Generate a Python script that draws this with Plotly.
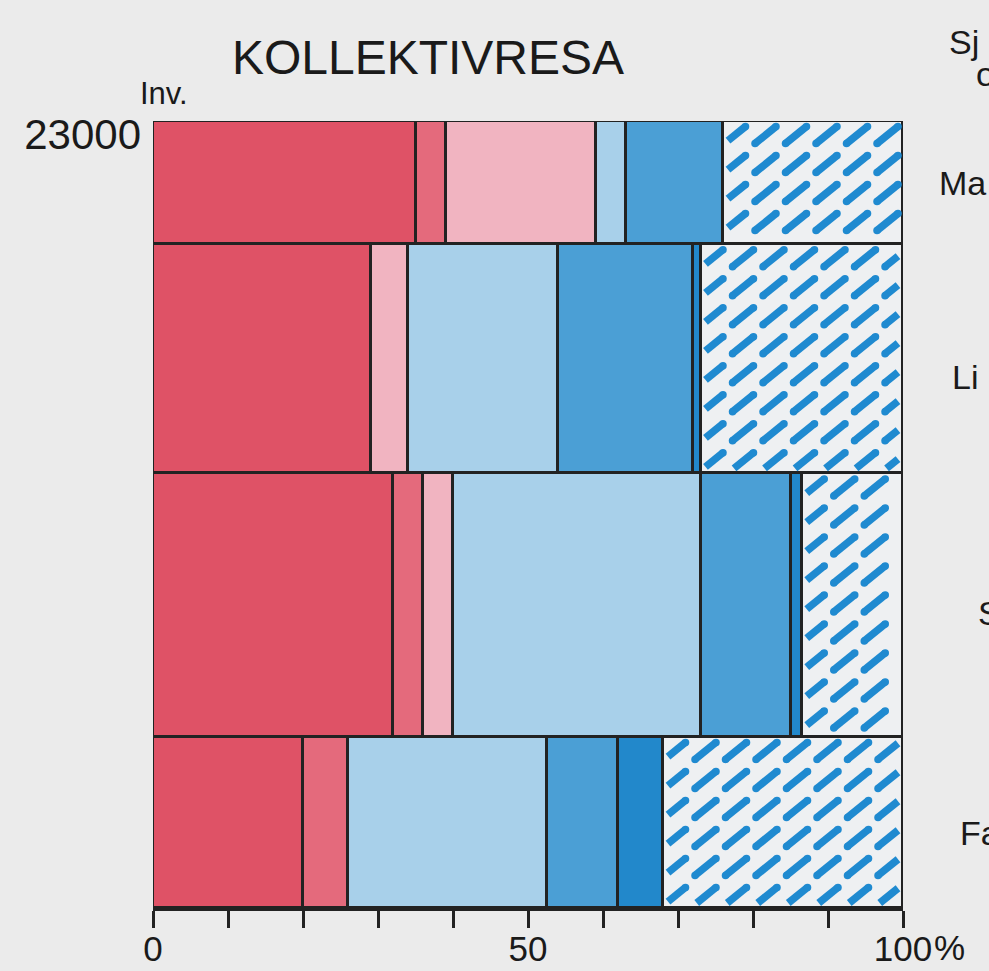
import numpy as np
import plotly.graph_objects as go

# Rows, top to bottom, and their population (inhabitants)
rows = ["Ma", "Li", "S", "Fa"]
population = [3600, 6700, 7700, 5000]

# Share of trips (%) per row, in stacking order from left to right
red = [35, 29, 32, 20]
red_mid = [4, 0, 4, 6]
pink = [20, 5, 4, 0]
blue_light = [4, 20, 33, 26.5]
blue_mid = [13, 18, 12, 9.5]
blue_dark = [0, 1, 1.5, 6]
hatched = [24, 27, 13.5, 32]

x_ticks = list(range(0, 101, 10))
x_ticklabels = ["0", "", "", "", "", "50", "", "", "", "", "100"]
y_top = 23000

series = [
    (red, "#df5266"),
    (red_mid, "#e46a7c"),
    (pink, "#f1b4c1"),
    (blue_light, "#a8d0ea"),
    (blue_mid, "#4b9fd5"),
    (blue_dark, "#2288cb"),
    (hatched, "#eef0f2"),
]
hatch_color = "#1f8ad0"
bg = "#ebebeb"
ink = "#1a1a1a"
font = "Liberation Sans, Arial, sans-serif"

# Plot-area geometry in pixels
W, H = 989, 971
ml, mr, mt, mb = 153, 86, 121, 63
pw, ph = W - ml - mr, H - mt - mb
kx = pw / 100.0          # px per percent
ky = ph / float(y_top)   # px per inhabitant

# Row bands: bottom row starts at 0
pop_bottom_up = population[::-1]
edges = np.concatenate([[0], np.cumsum(pop_bottom_up)])[::-1]  # top edges first
row_top = edges[:-1]
row_bot = edges[1:]
centers = (row_top + row_bot) / 2.0

fig = go.Figure()

starts = np.zeros(len(rows))
hatch_boxes = []
for k, (vals, color) in enumerate(series):
    vals = np.array(vals, dtype=float)
    xs = [v if v > 0 else None for v in vals]
    fig.add_trace(go.Bar(
        orientation="h",
        y=centers, x=xs, base=starts.copy(), width=population,
        marker=dict(color=color, line=dict(color="#222222", width=3)),
        showlegend=False, hoverinfo="skip",
    ))
    if k == len(series) - 1:
        for i in range(len(rows)):
            hatch_boxes.append((starts[i], starts[i] + vals[i], row_bot[i], row_top[i]))
    starts = starts + vals


def clip_segment(p, q, box):
    """Liang-Barsky clip of segment p->q to box (xmin, xmax, ymin, ymax)."""
    x0, y0 = p
    dx, dy = q[0] - p[0], q[1] - p[1]
    t0, t1 = 0.0, 1.0
    xmin, xmax, ymin, ymax = box
    for pk, qk in ((-dx, x0 - xmin), (dx, xmax - x0), (-dy, y0 - ymin), (dy, ymax - y0)):
        if pk == 0:
            if qk < 0:
                return None
            continue
        r = qk / pk
        if pk < 0:
            t0 = max(t0, r)
        else:
            t1 = min(t1, r)
        if t0 > t1:
            return None
    if t1 - t0 < 0.3:
        return None
    return (x0 + t0 * dx, y0 + t0 * dy), (x0 + t1 * dx, y0 + t1 * dy), t0 == 0.0, t1 == 1.0


# Dashed diagonal hatching, built in pixel space and mapped back to data units
sx, sy = 30.5, 29.0
hx, hy = 10.5, 8.5
inset = 5.0
seg_x, seg_y = [], []
cap_x, cap_y = [], []
for (x0, x1, y0, y1) in hatch_boxes:
    X0, X1 = x0 * kx, x1 * kx
    Ytop, Ybot = (y_top - y1) * ky, (y_top - y0) * ky  # screen y (down)
    box = (X0 + inset, X1 - inset, Ytop + inset, Ybot - inset)
    cy = Ytop + 14
    while cy < Ybot + sy:
        cx = X0 + 12
        while cx < X1 + sx:
            seg = clip_segment((cx - hx, cy + hy), (cx + hx, cy - hy), box)
            if seg is not None:
                (a, b), (c, d), whole_start, whole_end = seg
                seg_x += [a / kx, c / kx, None]
                seg_y += [y_top - b / ky, y_top - d / ky, None]
                # round ends on dashes that are not cut by the box edge
                if whole_start:
                    cap_x.append(a / kx)
                    cap_y.append(y_top - b / ky)
                if whole_end:
                    cap_x.append(c / kx)
                    cap_y.append(y_top - d / ky)
            cx += sx
        cy += sy

fig.add_trace(go.Scatter(
    x=seg_x, y=seg_y, mode="lines",
    line=dict(color=hatch_color, width=7.5),
    showlegend=False, hoverinfo="skip",
))
fig.add_trace(go.Scatter(
    x=cap_x, y=cap_y, mode="markers",
    marker=dict(color=hatch_color, size=7.5, line=dict(width=0)),
    showlegend=False, hoverinfo="skip",
))

ann = []
# Row labels on the right edge
label_shift = [0, -18, -8, -11]
label_px = [937, 950, 976, 958]
for name, c, dy_px, px in zip(rows, centers, label_shift, label_px):
    ann.append(dict(text=name, xref="paper", yref="y", x=(px - ml) / pw, y=c,
                    yshift=dy_px, xanchor="left", yanchor="middle", showarrow=False,
                    font=dict(size=34, color=ink, family=font)))
# Column header (upper right)
ann.append(dict(text="Sj", xref="paper", yref="paper", x=(947 - ml) / pw,
                y=(H - mb - 42) / ph, xanchor="left", yanchor="middle", showarrow=False,
                font=dict(size=34, color=ink, family=font)))
ann.append(dict(text="o", xref="paper", yref="paper", x=(974 - ml) / pw,
                y=(H - mb - 74) / ph, xanchor="left", yanchor="middle", showarrow=False,
                font=dict(size=34, color=ink, family=font)))
# Axis captions
ann.append(dict(text="Inv.", xref="paper", yref="paper", x=(164 - ml) / pw,
                y=(H - mb - 93) / ph, xanchor="center", yanchor="middle", showarrow=False,
                font=dict(size=31, color=ink, family=font)))
ann.append(dict(text="%", xref="x", yref="paper", x=100, xshift=29,
                y=(H - mb - 947) / ph, xanchor="left", yanchor="middle", showarrow=False,
                font=dict(size=35, color=ink, family=font)))

fig.update_layout(
    width=W, height=H,
    margin=dict(l=ml, r=mr, t=mt, b=mb, autoexpand=False),
    paper_bgcolor=bg, plot_bgcolor=bg,
    barmode="overlay", bargap=0,
    title=dict(text="KOLLEKTIVRESA", x=(428 - ml) / pw, xref="paper", xanchor="center",
               y=1 - 57 / H, yref="container", yanchor="middle",
               font=dict(size=48, color=ink, family=font)),
    annotations=ann,
    xaxis=dict(range=[0, 100], tickvals=x_ticks, ticktext=x_ticklabels,
               automargin=False,
               showgrid=False, zeroline=False, showline=True, linecolor="#222222",
               linewidth=3, ticks="outside", ticklen=17, tickwidth=2.6,
               ticklabelstandoff=-9,
               tickcolor="#222222", tickfont=dict(size=35, color=ink, family=font)),
    yaxis=dict(range=[0, y_top], tickvals=[y_top], ticktext=["23000"],
               automargin=False,
               showgrid=False, zeroline=False, showline=False, ticks="",
               ticklabelshift=13, ticklabelstandoff=11,
               tickfont=dict(size=42, color=ink, family=font)),
)

fig.write_html("out.html")
